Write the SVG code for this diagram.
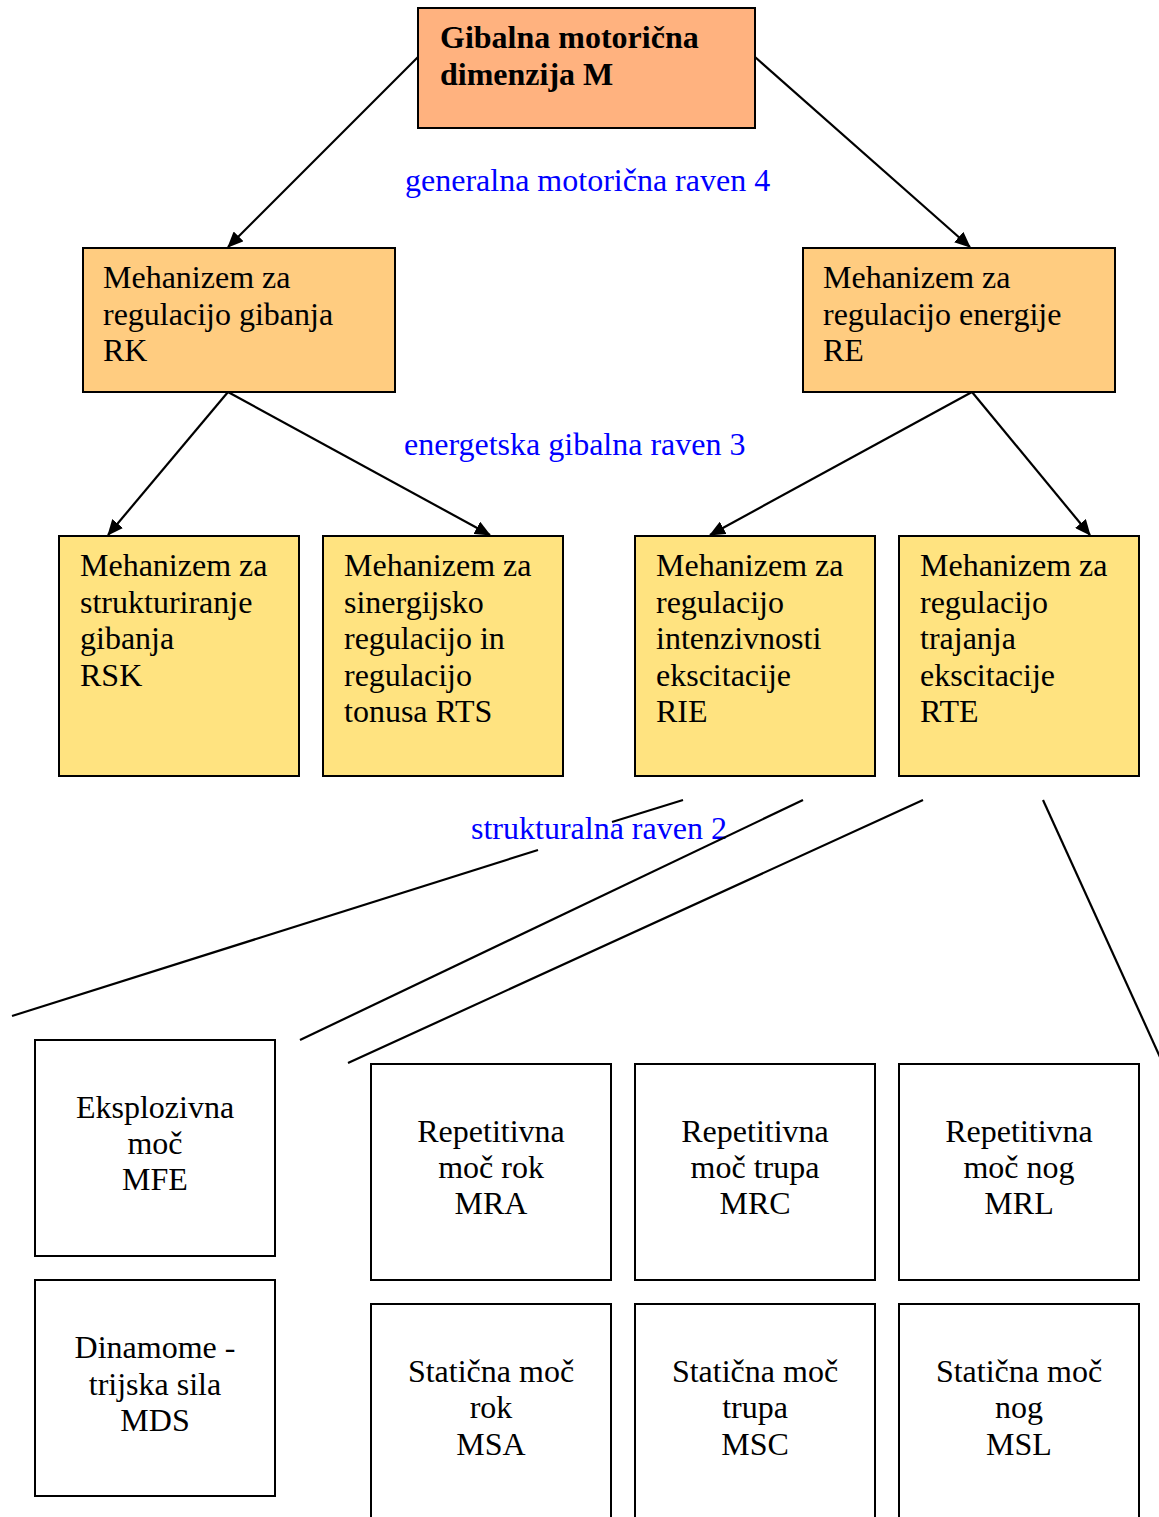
<svg xmlns="http://www.w3.org/2000/svg" width="1159" height="1517" viewBox="0 0 1159 1517">
  <style>
    .box { stroke: #000; stroke-width: 2; }
    .top { fill: #FFB27F; }
    .mid { fill: #FFCC80; }
    .low { fill: #FFE380; }
    .plain { fill: #FFFFFF; }
    text { font-family: "Liberation Serif", "Times New Roman", serif; font-size: 32px; fill: #000; }
    .title { font-weight: bold; }
    .level { fill: #0000FF; }
    .c { text-anchor: middle; }
    .link { stroke: #000; stroke-width: 2.2; fill: none; }
    .arrow { marker-end: url(#head); }
  </style>
  <defs>
    <marker id="head" markerUnits="userSpaceOnUse" markerWidth="16" markerHeight="14" refX="15" refY="7" orient="auto">
      <path d="M0,0 L16,7 L0,14 Z" fill="#000"/>
    </marker>
  </defs>

  <rect width="1159" height="1517" fill="#FFFFFF"/>

  <!-- level captions -->
  <text class="level" x="405" y="191">generalna motorična raven 4</text>
  <text class="level" x="404" y="455">energetska gibalna raven 3</text>
  <text class="level" x="471" y="839">strukturalna raven 2</text>

  <!-- connectors -->
  <g id="connectors">
    <line class="link arrow" x1="418" y1="57" x2="228" y2="247"/>
    <line class="link arrow" x1="755" y1="57" x2="970" y2="247"/>
    <line class="link arrow" x1="228" y1="392" x2="108" y2="535"/>
    <line class="link arrow" x1="228" y1="392" x2="490" y2="535"/>
    <line class="link arrow" x1="972" y1="392" x2="710" y2="535"/>
    <line class="link arrow" x1="972" y1="392" x2="1090" y2="535"/>
    <line class="link" x1="683" y1="800" x2="612" y2="822"/>
    <line class="link" x1="538" y1="850" x2="12" y2="1016"/>
    <line class="link" x1="803" y1="800" x2="300" y2="1040"/>
    <line class="link" x1="923" y1="800" x2="348" y2="1063"/>
    <line class="link" x1="1043" y1="800" x2="1160" y2="1057"/>
  </g>

  <!-- level 4 -->
  <g id="node-M">
    <rect class="box top" x="418" y="8" width="337" height="120"/>
    <text class="title" x="440" y="48">Gibalna motorična</text>
    <text class="title" x="440" y="85">dimenzija M</text>
  </g>

  <!-- level 3 -->
  <g id="node-RK">
    <rect class="box mid" x="83" y="248" width="312" height="144"/>
    <text x="103" y="288">Mehanizem za</text>
    <text x="103" y="325">regulacijo gibanja</text>
    <text x="103" y="361">RK</text>
  </g>
  <g id="node-RE">
    <rect class="box mid" x="803" y="248" width="312" height="144"/>
    <text x="823" y="288">Mehanizem za</text>
    <text x="823" y="325">regulacijo energije</text>
    <text x="823" y="361">RE</text>
  </g>

  <!-- level 2 -->
  <g id="node-RSK">
    <rect class="box low" x="59" y="536" width="240" height="240"/>
    <text x="80" y="576">Mehanizem za</text>
    <text x="80" y="613">strukturiranje</text>
    <text x="80" y="649">gibanja</text>
    <text x="80" y="686">RSK</text>
  </g>
  <g id="node-RTS">
    <rect class="box low" x="323" y="536" width="240" height="240"/>
    <text x="344" y="576">Mehanizem za</text>
    <text x="344" y="613">sinergijsko</text>
    <text x="344" y="649">regulacijo in</text>
    <text x="344" y="686">regulacijo</text>
    <text x="344" y="722">tonusa RTS</text>
  </g>
  <g id="node-RIE">
    <rect class="box low" x="635" y="536" width="240" height="240"/>
    <text x="656" y="576">Mehanizem za</text>
    <text x="656" y="613">regulacijo</text>
    <text x="656" y="649">intenzivnosti</text>
    <text x="656" y="686">ekscitacije</text>
    <text x="656" y="722">RIE</text>
  </g>
  <g id="node-RTE">
    <rect class="box low" x="899" y="536" width="240" height="240"/>
    <text x="920" y="576">Mehanizem za</text>
    <text x="920" y="613">regulacijo</text>
    <text x="920" y="649">trajanja</text>
    <text x="920" y="686">ekscitacije</text>
    <text x="920" y="722">RTE</text>
  </g>

  <!-- level 1 -->
  <g id="node-MFE">
    <rect class="box plain" x="35" y="1040" width="240" height="216"/>
    <text class="c" x="155" y="1118">Eksplozivna</text>
    <text class="c" x="155" y="1154">moč</text>
    <text class="c" x="155" y="1190">MFE</text>
  </g>
  <g id="node-MDS">
    <rect class="box plain" x="35" y="1280" width="240" height="216"/>
    <text class="c" x="155" y="1358">Dinamome -</text>
    <text class="c" x="155" y="1395">trijska sila</text>
    <text class="c" x="155" y="1431">MDS</text>
  </g>
  <g id="node-MRA">
    <rect class="box plain" x="371" y="1064" width="240" height="216"/>
    <text class="c" x="491" y="1142">Repetitivna</text>
    <text class="c" x="491" y="1178">moč rok</text>
    <text class="c" x="491" y="1214">MRA</text>
  </g>
  <g id="node-MRC">
    <rect class="box plain" x="635" y="1064" width="240" height="216"/>
    <text class="c" x="755" y="1142">Repetitivna</text>
    <text class="c" x="755" y="1178">moč trupa</text>
    <text class="c" x="755" y="1214">MRC</text>
  </g>
  <g id="node-MRL">
    <rect class="box plain" x="899" y="1064" width="240" height="216"/>
    <text class="c" x="1019" y="1142">Repetitivna</text>
    <text class="c" x="1019" y="1178">moč nog</text>
    <text class="c" x="1019" y="1214">MRL</text>
  </g>
  <g id="node-MSA">
    <rect class="box plain" x="371" y="1304" width="240" height="230"/>
    <text class="c" x="491" y="1382">Statična moč</text>
    <text class="c" x="491" y="1418">rok</text>
    <text class="c" x="491" y="1455">MSA</text>
  </g>
  <g id="node-MSC">
    <rect class="box plain" x="635" y="1304" width="240" height="230"/>
    <text class="c" x="755" y="1382">Statična moč</text>
    <text class="c" x="755" y="1418">trupa</text>
    <text class="c" x="755" y="1455">MSC</text>
  </g>
  <g id="node-MSL">
    <rect class="box plain" x="899" y="1304" width="240" height="230"/>
    <text class="c" x="1019" y="1382">Statična moč</text>
    <text class="c" x="1019" y="1418">nog</text>
    <text class="c" x="1019" y="1455">MSL</text>
  </g>
</svg>
